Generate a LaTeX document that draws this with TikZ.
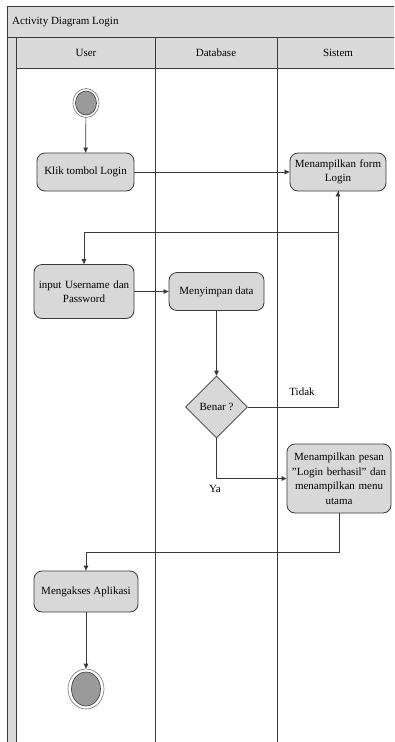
\documentclass[tikz,border=0pt]{standalone}
\usepackage{fontspec}
\setmainfont{Liberation Serif}
\usetikzlibrary{shapes.geometric,arrows.meta,positioning}
\definecolor{linec}{HTML}{3A3A3A}
\definecolor{boxfill}{HTML}{D8D8D8}
\definecolor{barfill}{HTML}{DADADA}
\definecolor{dotfill}{HTML}{9A9A9A}
\tikzset{
  act/.style={draw=linec, fill=boxfill, rounded corners=8pt, align=center, inner sep=2pt,
    font=\fontsize{11}{14.5}\selectfont, line width=0.8pt},
  dec/.style={diamond, draw=linec, fill=boxfill, inner sep=0pt, aspect=1,
    font=\fontsize{11}{13}\selectfont, line width=0.6pt},
  ring/.style={ellipse, draw=linec!70, fill=white, inner sep=0pt, line width=0.6pt},
  dot/.style={ellipse, draw=linec, fill=dotfill, inner sep=0pt, line width=0.6pt},
  flow/.style={draw=linec, line width=0.7pt, -{Triangle[length=5pt,width=4.5pt]}},
  plain/.style={draw=linec, line width=0.7pt},
  lane/.style={draw=linec, line width=0.7pt},
  lbl/.style={font=\fontsize{11}{13}\selectfont, inner sep=0pt}
}
\begin{document}
\begin{tikzpicture}[x=1pt,y=-1pt]
\useasboundingbox (0,0) rectangle (394,742);
\fill[white] (0,0) rectangle (394,742);
\begin{scope}
\clip (0,0) rectangle (394,742);
% title bar and frame
\fill[barfill] (7,6) rectangle (400,37);
\fill[barfill] (7,37) rectangle (16,750);
\fill[barfill] (16,37) rectangle (400,68);
\draw[lane] (7,750) -- (7,6) -- (400,6);
\draw[lane] (7,37) -- (400,37);
\draw[lane] (16,68) -- (400,68);
\draw[lane] (16,37) -- (16,750);
\draw[lane] (155,37) -- (155,750);
\draw[lane] (277,37) -- (277,750);
\end{scope}
\node[lbl, anchor=west] (title) at (12,22) {Activity Diagram Login};
\node[lbl] (hUser) at (86,53) {User};
\node[lbl] (hDb) at (216,53) {Database};
\node[lbl] (hSis) at (338,53) {Sistem};

% nodes
\node[ring, minimum width=26pt, minimum height=29pt] (start) at (86,103) {};
\node[dot, minimum width=21pt, minimum height=24pt] (startin) at (86,103) {};
\node[act, minimum width=97pt, minimum height=38pt] (klik) at (85.5,172) {Klik tombol Login};
\node[act, minimum width=96pt, minimum height=38pt, text width=90pt] (form) at (338,172) {Menampilkan form\\Login};
\node[act, minimum width=100pt, minimum height=54pt, text width=94pt] (input) at (84,291.5) {input Username dan\\Password};
\node[act, minimum width=95pt, minimum height=38pt] (simpan) at (216.5,291.5) {Menyimpan data};
\node[dec, minimum width=62pt, minimum height=62pt] (benar) at (216.5,407) {Benar ?};
\node[act, minimum width=104pt, minimum height=69pt, text width=100pt] (pesan) at (339,478.5) {Menampilkan pesan\\\symbol{34}Login berhasil\symbol{34} dan\\menampilkan menu\\utama};
\node[act, minimum width=104pt, minimum height=41pt] (akses) at (86,591.5) {Mengakses Aplikasi};
\node[ring, minimum width=36pt, minimum height=40pt] (end) at (86,689) {};
\node[dot, minimum width=29pt, minimum height=34pt] (endin) at (86,689) {};

\coordinate (c1) at (84,232);
\coordinate (c2) at (86,552);

% connectors
\draw[flow] (start) -- (klik);
\draw[flow] (klik) -- (form);
\draw[plain] (form.south) |- (c1);
\draw[flow] (c1) -- (input.north);
\draw[flow] (input) -- (simpan);
\draw[flow] (simpan) -- (benar);
\draw[flow] (benar.east) -| (form.south);
\draw[flow] (benar.south) |- (pesan.west);
\draw[plain] (pesan.south) |- (c2);
\draw[flow] (c2) -- (akses.north);
\draw[flow] (akses) -- (end);

\node[lbl] (tidak) at (302,392) {Tidak};
\node[lbl] (ya) at (215,489) {Ya};
\end{tikzpicture}
\end{document}
